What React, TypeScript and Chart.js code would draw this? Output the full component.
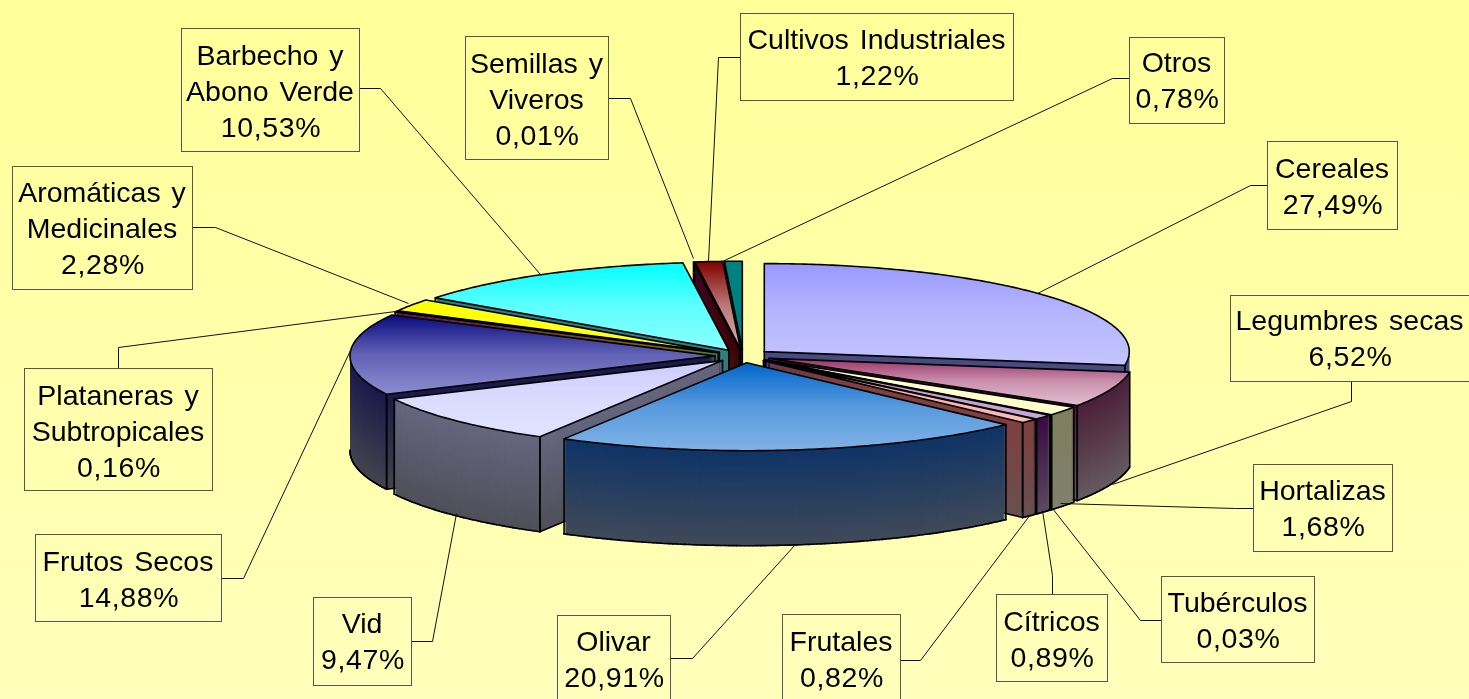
import React, { useEffect, useRef } from "react";
import { Chart, registerables } from "chart.js";

Chart.register(...registerables);

// Data: clockwise from 12 o'clock
const categories = ["Cereales", "Legumbres secas", "Hortalizas", "Tubérculos", "Cítricos", "Frutales", "Olivar", "Vid", "Frutos Secos", "Plataneras y Subtropicales", "Aromáticas y Medicinales", "Barbecho y Abono Verde", "Semillas y Viveros", "Cultivos Industriales", "Otros"];
// sector sizes as they are drawn in the picture
const sectorShares = [27.49, 6.52, 1.68, 0.03, 0.89, 0.82, 20.91, 9.47, 14.88, 0.16, 2.28, 12.86, 0.01, 1.22, 0.78];
// percentages as they are printed in the callouts
const printedShares = ["27,49%", "6,52%", "1,68%", "0,03%", "0,89%", "0,82%", "20,91%", "9,47%", "14,88%", "0,16%", "2,28%", "10,53%", "0,01%", "1,22%", "0,78%"];
const calloutLines = [["Cereales"], ["Legumbres secas"], ["Hortalizas"], ["Tubérculos"], ["Cítricos"], ["Frutales"], ["Olivar"], ["Vid"], ["Frutos Secos"], ["Plataneras y", "Subtropicales"], ["Aromáticas y", "Medicinales"], ["Barbecho y", "Abono Verde"], ["Semillas y", "Viveros"], ["Cultivos Industriales"], ["Otros"]];

// Styles
const topFrom = ["#9999FF", "#993366", "#FFFFCC", "#CCFFFF", "#B38FC9", "#FF9A9A", "#0066CC", "#CCCCFF", "#0A0A80", "#B000B0", "#FFFF00", "#00FFFF", "#800080", "#800000", "#008080"];
const topTo = ["#C4C4FF", "#E2BFD2", "#FFFFCC", "#CCFFFF", "#C8A8D8", "#FFB8B8", "#80B2E6", "#E2E2FF", "#8C8CD0", "#C040C0", "#FFFF20", "#8CFFFF", "#800080", "#D8B0B0", "#008080"];
const wallFrom = ["#4A4A85", "#4C1F3A", "#7F7F60", "#5F9090", "#3A0A44", "#804040", "#0F3468", "#66667F", "#1A1A4A", "#600060", "#808000", "#2D8080", "#3A0A46", "#400000", "#004848"];
const wallTo = ["#55556E", "#665A60", "#80806C", "#709090", "#5C4A62", "#6A5050", "#404A58", "#50505A", "#44444F", "#504050", "#606030", "#3F6F6F", "#3A0A46", "#403030", "#004848"];

// Layout of the 3-D projection (pixels)
const CX = 743, CY = 356, RX = 365, RY = 88, DEPTH = 95, EXPLODE = 28;

// Callout layout: box x0,y0,x1,y1, first text line centre y, leader points
const boxes = [[1267, 141, 1397, 229], [1230, 295, 1469, 381], [1253, 464, 1392, 551], [1161, 576, 1314, 662], [996, 594, 1107, 681], [782, 614, 900, 699], [557, 615, 670, 699], [313, 597, 411, 685], [35, 534, 221, 621], [24, 368, 212, 490], [12, 166, 192, 289], [181, 28, 359, 151], [465, 36, 608, 159], [740, 13, 1013, 100], [1129, 37, 1224, 123]];
const firstLineY = [170, 322, 492, 604, 623, 643, 643, 625, 563, 397, 194, 57, 65, 41, 64];
const leaders = [
  [[1267, 185], [1250, 185], [1037, 293]],
  [[1351, 381], [1351, 401], [1112, 484]],
  [[1253, 508], [1235, 508], [1060, 503]],
  [[1161, 620], [1140, 620], [1052, 508]],
  [[1052, 594], [1052, 575], [1042, 510]],
  [[900, 660], [920, 660], [1030, 514]],
  [[670, 658], [692, 658], [795, 544]],
  [[411, 641], [432, 641], [456, 513]],
  [[221, 578], [243, 578], [350, 350]],
  [[118, 368], [118, 347], [395, 311]],
  [[192, 227], [215, 227], [408, 303]],
  [[359, 88], [380, 88], [540, 274]],
  [[608, 98], [630, 98], [693, 258]],
  [[740, 57], [718, 57], [708, 261]],
  [[1129, 78], [1112, 78], [722, 261]],
];

function hex(c: string) {
  return [1, 3, 5].map((i) => parseInt(c.slice(i, i + 2), 16));
}
function mix(a: string, b: string, t: number) {
  const x = hex(a), y = hex(b);
  return `rgb(${x.map((v, i) => Math.round(v + (y[i] - v) * t)).join(",")})`;
}

const backdrop = {
  id: "backdrop",
  beforeDraw(chart: any) {
    const { ctx, width, height } = chart;
    const g = ctx.createLinearGradient(0, 0, 0, height);
    g.addColorStop(0, "#FFFF99");
    g.addColorStop(1, "#FFFFBB");
    ctx.save();
    ctx.fillStyle = g;
    ctx.fillRect(0, 0, width, height);
    ctx.restore();
  },
};

function drawArc(ctx: any, arc: any, fill: any, d: number, expl: number, R: number) {
  const mid = (arc.startAngle + arc.endAngle) / 2;
  const base = arc.options;
  arc.options = Object.assign(Object.create(base), { backgroundColor: fill, borderWidth: 0, offset: 0 });
  ctx.save();
  ctx.translate(CX, CY + d);
  ctx.scale(RX / R, RY / R);
  ctx.translate(expl * Math.cos(mid) - arc.x, expl * Math.sin(mid) - arc.y);
  arc.draw(ctx);
  ctx.restore();
  arc.options = base;
}

const pie3d = {
  id: "pie3d",
  beforeDatasetsDraw(chart: any) {
    const { ctx } = chart;
    const arcs: any[] = chart.getDatasetMeta(0).data;
    const R = arcs[0].outerRadius;
    const expl = (EXPLODE / RX) * R;
    const order = arcs.map((_, i) => i).sort((a, b) => {
      const m = (x: any) => (x.startAngle + x.endAngle) / 2;
      return Math.sin(m(arcs[a])) - Math.sin(m(arcs[b]));
    });
    for (const i of order) {
      const arc = arcs[i];
      const a0 = arc.startAngle, a1 = arc.endAngle, mid = (a0 + a1) / 2;
      const ox = EXPLODE * Math.cos(mid), oy = EXPLODE * (RY / RX) * Math.sin(mid);
      const pt = (a: number | null, d: number) =>
        a === null
          ? [CX + ox, CY + oy + d]
          : [CX + ox + RX * Math.cos(a), CY + oy + RY * Math.sin(a) + d];
      // wall: the library's arc stacked downwards
      for (let d = DEPTH; d >= 1; d--) {
        drawArc(ctx, arc, mix(wallFrom[i], wallTo[i], d / DEPTH), d, expl, R);
      }
      // wall outlines on the faces turned to the viewer
      const steps = Math.max(2, Math.ceil((a1 - a0) * 90));
      const rim: number[] = [];
      for (let s = 0; s <= steps; s++) rim.push(a0 + ((a1 - a0) * s) / steps);
      ctx.save();
      ctx.strokeStyle = "#000";
      ctx.lineWidth = 1.6;
      ctx.lineCap = "round";
      ctx.lineJoin = "round";
      const vert = (a: number | null) => {
        const p = pt(a, 0), q = pt(a, DEPTH);
        ctx.beginPath(); ctx.moveTo(p[0], p[1]); ctx.lineTo(q[0], q[1]); ctx.stroke();
      };
      const seg = (a: number | null, b: number | null) => {
        const p = pt(a, DEPTH), q = pt(b, DEPTH);
        ctx.beginPath(); ctx.moveTo(p[0], p[1]); ctx.lineTo(q[0], q[1]); ctx.stroke();
      };
      if (Math.cos(a0) < 0) { seg(null, a0); vert(null); vert(a0); }
      if (Math.cos(a1) > 0) { seg(null, a1); vert(null); vert(a1); }
      for (let s = 0; s < steps; s++) {
        if (Math.sin(rim[s]) > 0 || Math.sin(rim[s + 1]) > 0) seg(rim[s], rim[s + 1]);
      }
      if (Math.sin(a0) > 0) vert(a0);
      if (Math.sin(a1) > 0) vert(a1);
      ctx.restore();
      // top face
      const ys = [0, ...rim.map((a) => Math.sin(a))];
      const g = ctx.createLinearGradient(0, arc.y + R * Math.min(...ys), 0, arc.y + R * Math.max(...ys));
      g.addColorStop(0, topFrom[i]);
      g.addColorStop(0.5, mix(topFrom[i], topTo[i], 0.68));
      g.addColorStop(1, topTo[i]);
      drawArc(ctx, arc, g, 0, expl, R);
      ctx.save();
      ctx.strokeStyle = "#000";
      ctx.lineWidth = 1.6;
      ctx.lineJoin = "round";
      ctx.beginPath();
      const c = pt(null, 0);
      ctx.moveTo(c[0], c[1]);
      for (const a of rim) { const p = pt(a, 0); ctx.lineTo(p[0], p[1]); }
      ctx.closePath();
      ctx.stroke();
      ctx.restore();
    }
    return false;
  },
};

const callouts = {
  id: "callouts",
  afterDraw(chart: any) {
    const { ctx } = chart;
    ctx.save();
    categories.forEach((_, i) => {
      const [x0, y0, x1, y1] = boxes[i];
      ctx.strokeStyle = "#111";
      ctx.lineWidth = 1;
      ctx.beginPath();
      leaders[i].forEach((p, k) => (k ? ctx.lineTo(p[0] + 0.5, p[1] + 0.5) : ctx.moveTo(p[0] + 0.5, p[1] + 0.5)));
      ctx.stroke();
      ctx.strokeStyle = "#555";
      ctx.strokeRect(x0 + 0.5, y0 + 0.5, x1 - x0, y1 - y0);
      ctx.fillStyle = "#000";
      ctx.font = '28.5px "Liberation Sans", Arial, sans-serif';
      ctx.textAlign = "center";
      ctx.textBaseline = "middle";
      const lines = calloutLines[i];
      lines.forEach((t, k) => {
        ctx.wordSpacing = "3px";
        ctx.letterSpacing = "0px";
        ctx.fillText(t, (x0 + x1) / 2, firstLineY[i] + k * 36.2);
      });
      ctx.wordSpacing = "0px";
      ctx.letterSpacing = "0.6px";
      ctx.fillText(printedShares[i], (x0 + x1) / 2 + 1, firstLineY[i] + lines.length * 36.2);
      ctx.letterSpacing = "0px";
    });
    ctx.restore();
  },
};

export default function App() {
  const ref = useRef<HTMLCanvasElement>(null);
  useEffect(() => {
    document.body.style.margin = "0";
    const chart = new Chart(ref.current as HTMLCanvasElement, {
      type: "pie",
      data: {
        labels: categories,
        datasets: [{ data: sectorShares, backgroundColor: topFrom, borderWidth: 0 }],
      },
      options: {
        responsive: false,
        animation: false,
        plugins: { legend: { display: false }, tooltip: { enabled: false } },
      },
      plugins: [backdrop, pie3d, callouts],
    } as any);
    return () => chart.destroy();
  }, []);
  return <canvas ref={ref} width={1469} height={699} style={{ display: "block" }} />;
}
